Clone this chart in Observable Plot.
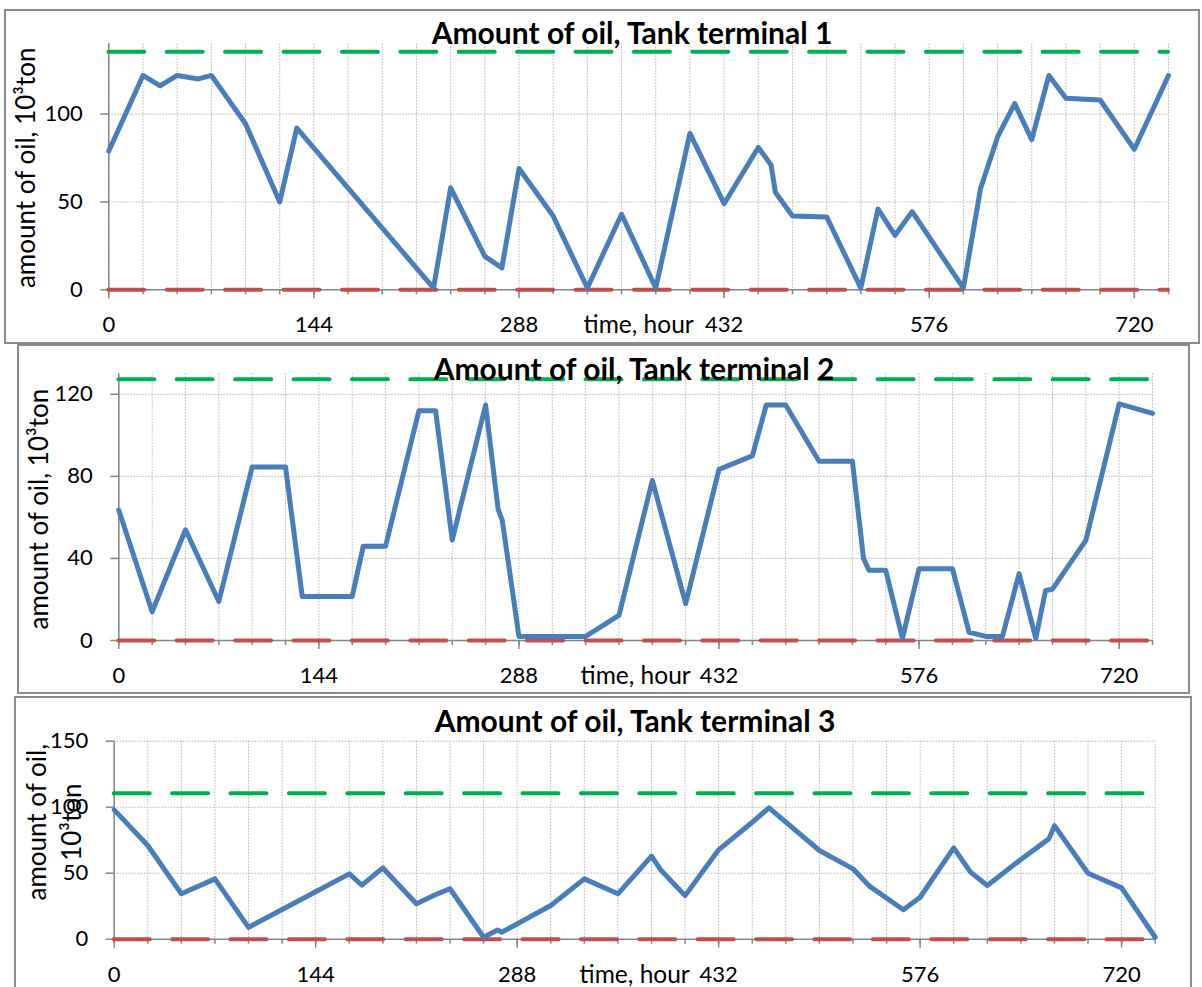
<!DOCTYPE html>
<html><head><meta charset="utf-8">
<script src="https://cdn.jsdelivr.net/npm/d3@7"></script>
<script src="https://cdn.jsdelivr.net/npm/@observablehq/plot@0.6"></script>
<style>
html,body{margin:0;padding:0;background:#fff;width:1202px;height:987px;overflow:hidden;}
#page{position:relative;width:1202px;height:987px;font-family:Lato,"Open Sans",sans-serif;}
.panel{position:absolute;}
.panel svg{position:absolute;left:0;top:0;outline:2px solid #8c8c8c;outline-offset:-2px;background:#fff;}
.title{position:absolute;white-space:nowrap;font-weight:700;font-size:30px;line-height:30px;transform:translateX(-50%);color:#000;font-family:Lato,"Open Sans",sans-serif;}
</style></head><body><div id="page"></div>
<script>
// ---- data ----
const titles = ["Amount of oil, Tank terminal 1", "Amount of oil, Tank terminal 2", "Amount of oil, Tank terminal 3"];
const xLabel = "time, hour";
const yLabels = ["amount of oil, 10³ton", "amount of oil, 10³ton", "amount of oil,\n10³ton"];
const xMajorTicks = [0, 144, 288, 432, 576, 720];
const xMinorTicks = d3.range(0, 745, 24);
const yTicks1 = [0, 50, 100];
const yTicks2 = [0, 40, 80, 120];
const yTicks3 = [0, 50, 100, 150];
const capacity = [135.5, 127.3, 110.6];
const minimum = [0, 0, 0];

const hours1 = [0,24,36,48,63,72,96,120,132,228,240,264,276,288,312,336,360,384,408,432,456,465,468,480,504,528,540,552,564,600,612,624,636,648,660,672,696,720,744];
const oil1   = [79,122,116,122,120,122,94.5,50,92,1,58,19,12.5,69,42,1,43,1,89,49,81,71,55.5,42,41.5,1,46,31,44.5,1,57.5,87,106,85.5,122,109,108,80,122];

const hours2 = [0,24,48,72,96,120,132,168,176,192,216,228,240,264,273,276,288,336,360,384,408,432,456,466,480,504,528,536,540,552,564,576,600,612,624,636,648,660,667,672,696,720,744];
const oil2   = [63.5,14,54,19,84.6,84.6,21.5,21.5,46,46,112,112,49,114.8,64,58.6,2,2,12.2,78,18,83.4,90,114.8,114.8,87.4,87.4,40,34.2,34.2,1,35,35,4,2,2,32.6,1,24.4,25,48.8,115.3,110.7];

const hours3 = [0,24,48,72,96,144,168,177,192,216,228,240,264,274,277,312,336,360,384,391,408,432,456,468,504,528,540,564,576,600,612,624,648,668,672,696,720,744];
const oil3   = [98,71,34.4,45.7,9,36,49.5,41,54,26.8,33,38.2,1.5,7,5.3,25.5,45.7,34.4,63,52,33,67.7,88.6,99.5,67.2,53.3,40,22.3,31.8,69.2,50.8,40.7,60.4,76,86,50,38.9,1.5];

// ---- layout ----
const panels = [
  {hours: hours1, oil: oil1, yDomain: [0, 140], yTicks: yTicks1,
   left: 4, top: 9, width: 1196, height: 335, mL: 104.3, mR: 32, mT: 34.3, mB: 54.7,
   titleX: 632, titleBase: 43.3, labDx: -97, labDy: 1, lh: 1.25},
  {hours: hours2, oil: oil2, yDomain: [0, 130], yTicks: yTicks2,
   left: 17, top: 344, width: 1173, height: 350, mL: 101.3, mR: 38, mT: 29.3, mB: 54,
   titleX: 634, titleBase: 379.3, labDx: -94, labDy: 2, lh: 1.25},
  {hours: hours3, oil: oil3, yDomain: [0, 150], yTicks: yTicks3,
   left: 14, top: 696, width: 1178, height: 306, mL: 99.7, mR: 37.3, mT: 44.7, mB: 63.3,
   titleX: 635, titleBase: 731.7, labDx: -93, labDy: -18, lh: 1.35}
];

const BLUE = "#4a7ebb", GREEN = "#00b050", RED = "#c0504d", AXIS = "#868686", GRID = "#b4b4b4";
const page = document.getElementById("page");

panels.forEach((p, i) => {
  const rows = p.hours.map((h, k) => ({h, v: p.oil[k]}));
  const chart = Plot.plot({
    width: p.width, height: p.height,
    marginLeft: p.mL, marginRight: p.mR, marginTop: p.mT, marginBottom: p.mB,
    style: {fontFamily: "Lato, 'Open Sans', sans-serif", color: "#000", background: "#fff", overflow: "visible"},
    x: {domain: [0, 744]},
    y: {domain: p.yDomain},
    marks: [
      Plot.gridX(xMinorTicks, {stroke: GRID, strokeOpacity: 1, strokeDasharray: "1.5 1.5", strokeWidth: 1}),
      Plot.gridY(p.yTicks.filter(t => t > 0), {stroke: GRID, strokeOpacity: 1, strokeDasharray: "1.5 1.5", strokeWidth: 1}),
      Plot.ruleY([0], {stroke: AXIS, strokeWidth: 1.5}),
      Plot.ruleX([0], {stroke: AXIS, strokeWidth: 1.5}),
      Plot.axisX(xMinorTicks, {tickSize: 5, tickFormat: () => "", label: null, stroke: AXIS, strokeWidth: 1.5}),
      Plot.axisX(xMajorTicks, {tickSize: 9, tickPadding: 18, fontSize: 22, label: null, stroke: AXIS, strokeWidth: 1.5}),
      Plot.axisY(p.yTicks, {tickSize: 8, tickPadding: 18, fontSize: 22, label: null, stroke: AXIS, strokeWidth: 1.5}),
      Plot.text([xLabel], {frameAnchor: "bottom", lineAnchor: "top", dy: 26, fontSize: 24.5, fill: "#000"}),
      Plot.text([yLabels[i]], {frameAnchor: "left", rotate: -90, lineAnchor: "top", textAnchor: "middle",
        dx: p.labDx, dy: p.labDy, fontSize: 26, lineHeight: p.lh, fill: "#000"}),
      Plot.ruleY([capacity[i]], {stroke: GREEN, strokeWidth: 4, strokeDasharray: "36 22.4", strokeLinecap: "round"}),
      Plot.ruleY([minimum[i]], {stroke: RED, strokeWidth: 4, strokeDasharray: "36 22.4", strokeLinecap: "round"}),
      Plot.line(rows, {x: "h", y: "v", stroke: BLUE, strokeWidth: 5, strokeLinejoin: "round", strokeLinecap: "round"})
    ]
  });
  const div = document.createElement("div");
  div.className = "panel";
  div.style.left = p.left + "px";
  div.style.top = p.top + "px";
  div.style.width = p.width + "px";
  div.style.height = p.height + "px";
  div.appendChild(chart);
  page.appendChild(div);

  const t = document.createElement("div");
  t.className = "title";
  t.textContent = titles[i];
  t.style.left = p.titleX + "px";
  t.style.top = (p.titleBase - 0.887 * 30) + "px";
  page.appendChild(t);
});
</script>
</body></html>
